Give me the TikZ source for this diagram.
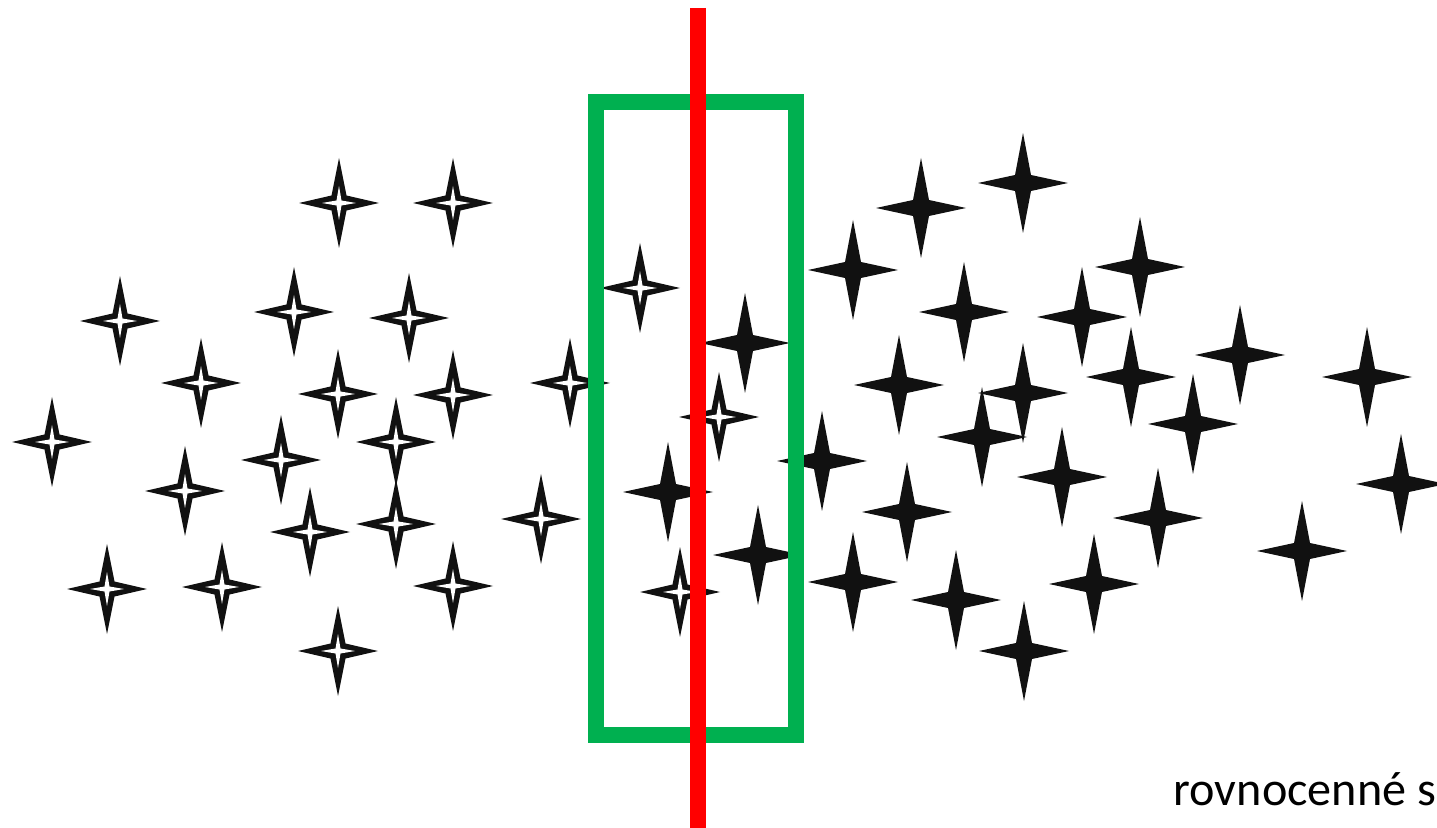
\documentclass[tikz,border=0pt]{standalone}
\usepackage{fontspec}
\setmainfont{Carlito}
\definecolor{boxgreen}{RGB}{0,176,80}
\definecolor{cutred}{RGB}{255,0,0}
\definecolor{starblack}{RGB}{17,17,17}
\tikzset{
  bstar/.pic={\fill[starblack] (0,-50) -- (8,-8) -- (45,0) -- (8,8) -- (0,50) -- (-8,8) -- (-45,0) -- (-8,-8) -- cycle;},
  wstar/.pic={\fill[starblack] (0,-45) -- (7.5,-7.5) -- (40,0) -- (7.5,7.5) -- (0,45) -- (-7.5,7.5) -- (-40,0) -- (-7.5,-7.5) -- cycle;
              \fill[white] (0,-17) -- (2.5,-2.5) -- (17,0) -- (2.5,2.5) -- (0,17) -- (-2.5,2.5) -- (-17,0) -- (-2.5,-2.5) -- cycle;},
  greenbox/.style={draw=boxgreen,line width=0.16cm},
  redcut/.style={draw=cutred,line width=0.16cm},
  caption/.style={font=\fontsize{13.7}{16}\selectfont,inner sep=0pt,anchor=base west}
}
\begin{document}
\begin{tikzpicture}[x=0.01cm,y=-0.01cm]
\useasboundingbox (0,0) rectangle (1437,828);
\begin{scope}
\clip (0,0) rectangle (1437,828);
% white stars
\foreach \px/\py [count=\i] in {339/203,453/203,120/321,294/312,409/318,201/383,338/394,453/395,570/383,52/442,281/460,396/442,185/491,310/532,396/524,541/519,107/589,222/587,453/586,338/651,640/288,719/417,680/592}
  \pic (w\i) at (\px,\py) {wstar};
% black stars
\foreach \px/\py [count=\i] in {921/208,1023/183,853/270,964/312,1140/267,1082/317,745/343,899/385,1023/393,1131/377,1240/355,1367/377,982/437,1193/424,822/461,1062/477,907/512,1158/518,1401/484,1302/551,668/492,758/555,853/582,956/600,1094/584,1024/651}
  \pic (b\i) at (\px,\py) {bstar};
% window
\draw[greenbox] (596,102) rectangle (796,735);
% cut line
\coordinate (ctop) at (698,8);
\coordinate (cbot) at (698,828);
\draw[redcut] (ctop) -- (cbot);
\node[caption] (cap) at (1173,805) {rovnocenné so};
\end{scope}
\end{tikzpicture}
\end{document}
